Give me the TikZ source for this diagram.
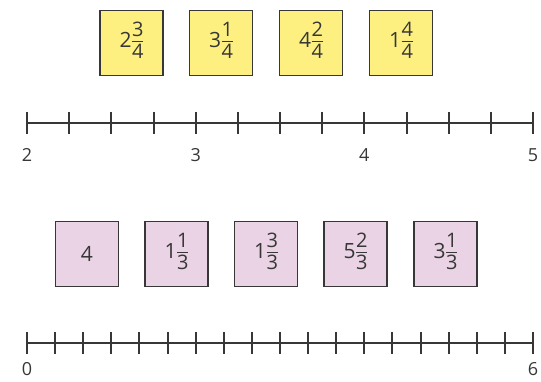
\documentclass[tikz,border=0pt]{standalone}
\usepackage{fontspec}
\setmainfont{Open Sans}
\usetikzlibrary{arrows.meta, positioning}
\definecolor{cardyellow}{RGB}{253,240,128}
\definecolor{cardpink}{RGB}{233,211,228}
\definecolor{inkgray}{RGB}{55,55,55}
\setlength{\arrayrulewidth}{1.1pt}
\newcommand{\mixnum}[3]{{\fontsize{21}{24}\selectfont#1}\kern0.5pt$\vcenter{\hbox{\fontsize{20}{22}\selectfont\begin{tabular}{@{}c@{}}#2\\[-2pt]\hline\rule{0pt}{16pt}#3\end{tabular}}}$}

\begin{document}
\begin{tikzpicture}[x=1pt, y=-1pt,
    font=\fontsize{18}{21}\selectfont, text=inkgray,
    card/.style={draw=inkgray, line width=1.3pt, minimum width=63pt, minimum height=65pt, inner sep=0pt},
    axis/.style={draw=inkgray, line width=1.8pt}]
    \useasboundingbox (0,0) rectangle (541,381);

    % yellow cards
    \foreach \x/\w/\n/\d [count=\i] in {131.5/2/3/4, 221/3/1/4, 311/4/2/4, 401/1/4/4}
        \node[card, fill=cardyellow] (top\i) at (\x,43) {\mixnum{\w}{\n}{\d}};

    % pink cards
    \node[card, fill=cardpink, font=\fontsize{21}{24}\selectfont] (low1) at (87,254) {4};
    \foreach \x/\w/\n/\d [count=\i from 2] in {176.5/1/1/3, 266/1/3/3, 355.5/5/2/3, 445.5/3/1/3}
        \node[card, fill=cardpink] (low\i) at (\x,254) {\mixnum{\w}{\n}{\d}};

    % number line in fourths
    \draw[axis] (27,123) -- (533,123);
    \foreach \k in {0,...,12}
        \draw[axis] ({round(27+\k*506/12)},112) -- ++(0,22);
    \foreach \v [count=\i from 0] in {2,3,4,5}
        \node (toplab\v) at ({27+\i*506/3},155) {\v};

    % number line in thirds
    \draw[axis] (27,343) -- (533,343);
    \foreach \k in {0,...,18}
        \draw[axis] ({round(27+\k*506/18)},332) -- ++(0,22);
    \node (lowlab0) at (27,369) {0};
    \node (lowlab6) at (533,369) {6};

\end{tikzpicture}
\end{document}
